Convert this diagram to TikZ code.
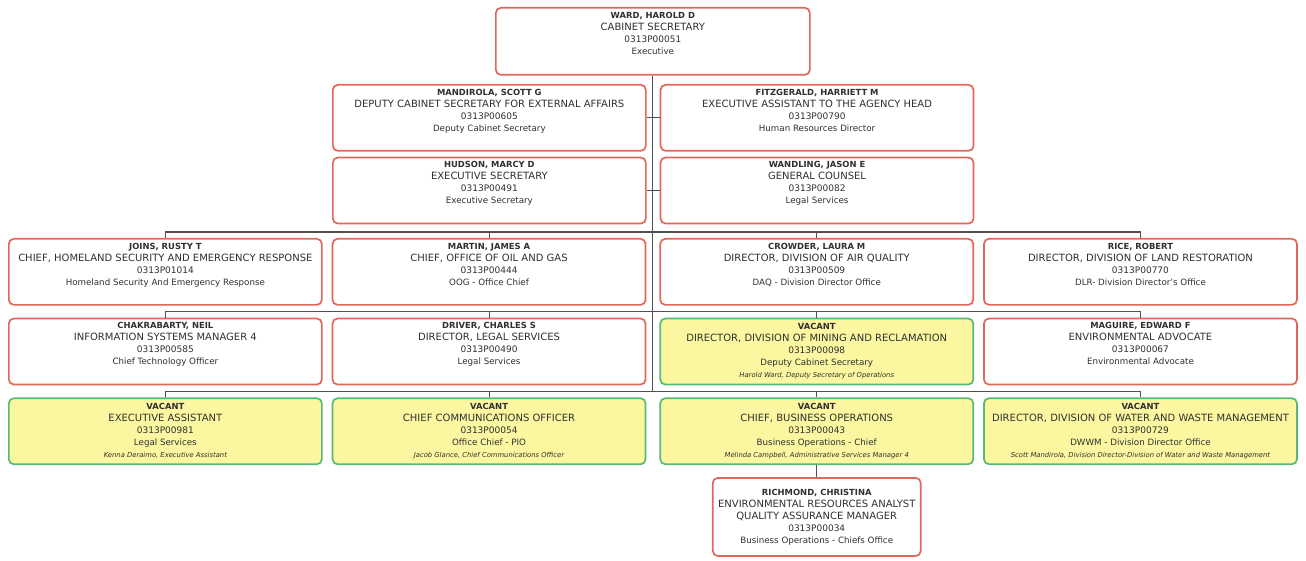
\documentclass[tikz,border=0pt]{standalone}
\usepackage{fontspec}
\setmainfont{DejaVu Sans}
\usepackage{tikz}
\usetikzlibrary{positioning}
\usepackage{xcolor}
\definecolor{boxred}{HTML}{E2675B}
\definecolor{boxgreen}{HTML}{55BB75}
\definecolor{vacfill}{HTML}{FAF7A0}
\definecolor{txtgray}{HTML}{303030}
\definecolor{linkgray}{HTML}{505050}
\newcommand{\posn}[4]{{\fontsize{8.4}{12}\selectfont\bfseries #1}\\{\fontsize{10}{12}\selectfont #2}\\{\fontsize{9}{12}\selectfont #3}\\{\fontsize{8.7}{12}\selectfont #4}\\\strut}
\newcommand{\vacant}[4]{{\fontsize{8.4}{12}\selectfont\bfseries VACANT}\\{\fontsize{10}{12}\selectfont #1}\\{\fontsize{9}{12}\selectfont #2}\\{\fontsize{8.7}{12}\selectfont #3}\\{\fontsize{6.8}{12}\selectfont\itshape #4}}

\begin{document}
\begin{tikzpicture}[
  x=1pt, y=-1pt,
  box/.style={rectangle, rounded corners=5pt, line width=1.7pt, minimum width=313pt, minimum height=66pt, inner sep=1pt, align=center, text=txtgray, font=\fontsize{9}{12}\selectfont},
  redbox/.style={box, draw=boxred, fill=white},
  vacbox/.style={box, draw=boxgreen, fill=vacfill},
  link/.style={draw=linkgray, line width=1.1pt}
]
\useasboundingbox[fill=white] (0,0) rectangle (1306,561);

\node[redbox, minimum width=314pt, minimum height=67pt, anchor=north west] (ward) at (495,7) {\posn{WARD, HAROLD D}{CABINET SECRETARY}{0313P00051}{Executive}};

\node[redbox, anchor=north west] (mandirola) at (332,84) {\posn{MANDIROLA, SCOTT G}{DEPUTY CABINET SECRETARY FOR EXTERNAL AFFAIRS}{0313P00605}{Deputy Cabinet Secretary}};
\node[redbox, right=13pt of mandirola] (fitzgerald) {\posn{FITZGERALD, HARRIETT M}{EXECUTIVE ASSISTANT TO THE AGENCY HEAD}{0313P00790}{Human Resources Director}};
\node[redbox, below=5pt of mandirola] (hudson) {\posn{HUDSON, MARCY D}{EXECUTIVE SECRETARY}{0313P00491}{Executive Secretary}};
\node[redbox, right=13pt of hudson] (wandling) {\posn{WANDLING, JASON E}{GENERAL COUNSEL}{0313P00082}{Legal Services}};

\node[redbox, anchor=north west] (joins) at (8,238) {\posn{JOINS, RUSTY T}{CHIEF, HOMELAND SECURITY AND EMERGENCY RESPONSE}{0313P01014}{Homeland Security And Emergency Response}};
\node[redbox, right=9pt of joins] (martin) {\posn{MARTIN, JAMES A}{CHIEF, OFFICE OF OIL AND GAS}{0313P00444}{OOG - Office Chief}};
\node[redbox, right=13pt of martin] (crowder) {\posn{CROWDER, LAURA M}{DIRECTOR, DIVISION OF AIR QUALITY}{0313P00509}{DAQ - Division Director Office}};
\node[redbox, right=9pt of crowder] (rice) {\posn{RICE, ROBERT}{DIRECTOR, DIVISION OF LAND RESTORATION}{0313P00770}{DLR- Division Director's Office}};

\node[redbox, below=12pt of joins] (chakrabarty) {\posn{CHAKRABARTY, NEIL}{INFORMATION SYSTEMS MANAGER 4}{0313P00585}{Chief Technology Officer}};
\node[redbox, below=12pt of martin] (driver) {\posn{DRIVER, CHARLES S}{DIRECTOR, LEGAL SERVICES}{0313P00490}{Legal Services}};
\node[vacbox, below=12pt of crowder] (mining) {\vacant{DIRECTOR, DIVISION OF MINING AND RECLAMATION}{0313P00098}{Deputy Cabinet Secretary}{Harold Ward, Deputy Secretary of Operations}};
\node[redbox, below=12pt of rice] (maguire) {\posn{MAGUIRE, EDWARD F}{ENVIRONMENTAL ADVOCATE}{0313P00067}{Environmental Advocate}};

\node[vacbox, below=12pt of chakrabarty] (assistant) {\vacant{EXECUTIVE ASSISTANT}{0313P00981}{Legal Services}{Kenna Deraimo, Executive Assistant}};
\node[vacbox, below=12pt of driver] (comms) {\vacant{CHIEF COMMUNICATIONS OFFICER}{0313P00054}{Office Chief - PIO}{Jacob Glance, Chief Communications Officer}};
\node[vacbox, below=12pt of mining] (busops) {\vacant{CHIEF, BUSINESS OPERATIONS}{0313P00043}{Business Operations - Chief}{Melinda Campbell, Administrative Services Manager 4}};
\node[vacbox, below=12pt of maguire] (water) {\vacant{DIRECTOR, DIVISION OF WATER AND WASTE MANAGEMENT}{0313P00729}{DWWM - Division Director Office}{Scott Mandirola, Division Director-Division of Water and Waste Management}};

\node[redbox, minimum width=208pt, minimum height=78pt, below=12pt of busops] (richmond) {{\fontsize{8.4}{12}\selectfont\bfseries RICHMOND, CHRISTINA}\\{\fontsize{10}{12}\selectfont ENVIRONMENTAL RESOURCES ANALYST}\\{\fontsize{10}{12}\selectfont QUALITY ASSURANCE MANAGER}\\{\fontsize{9}{12}\selectfont 0313P00034}\\{\fontsize{8.7}{12}\selectfont Business Operations - Chiefs Office}};

% trunk and buses
\coordinate (trunkend) at ([yshift=6pt]busops.north);
\draw[link] (ward.south) -- (ward.south |- trunkend);
\draw[link] (mandirola.east) -- (fitzgerald.west);
\draw[link] (hudson.east) -- (wandling.west);

\draw[link] (joins.north) -- ++(0pt,6pt) -| (rice.north);
\draw[link] (martin.north) -- ++(0pt,6pt);
\draw[link] (crowder.north) -- ++(0pt,6pt);

\draw[link] (chakrabarty.north) -- ++(0pt,6pt) -| (maguire.north);
\draw[link] (driver.north) -- ++(0pt,6pt);
\draw[link] (mining.north) -- ++(0pt,6pt);

\draw[link] (assistant.north) -- ++(0pt,6pt) -| (water.north);
\draw[link] (comms.north) -- ++(0pt,6pt);
\draw[link] (busops.north) -- ++(0pt,6pt);

\draw[link] (busops.south) -- (richmond.north);
\end{tikzpicture}
\end{document}
